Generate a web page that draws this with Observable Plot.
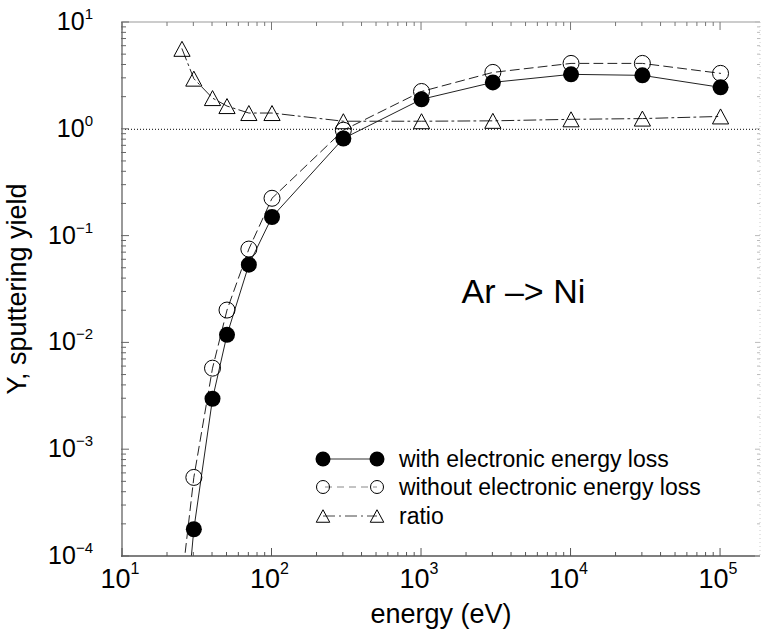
<!DOCTYPE html>
<html>
<head>
<meta charset="utf-8">
<script src="https://cdn.jsdelivr.net/npm/d3@7"></script>
<script src="https://cdn.jsdelivr.net/npm/@observablehq/plot@0.6"></script>
<style>
  html, body { margin: 0; padding: 0; background: #fff; }
</style>
</head>
<body>
<div id="chart"></div>
<script>
// Sputtering yield of Ni under Ar bombardment, with and without electronic stopping
const energy       = [25, 30, 40, 50, 70, 100, 300, 1000, 3000, 10000, 30000, 100000];
const yieldWith    = [1.1e-5, 1.8e-4, 0.0030, 0.0119, 0.054, 0.151, 0.82, 1.91, 2.75, 3.27, 3.20, 2.47];
const yieldWithout = [6.0e-5, 5.5e-4, 0.0058, 0.0203, 0.0756, 0.226, 0.98, 2.26, 3.41, 4.14, 4.14, 3.34];
const yieldRatio   = [5.67, 2.98, 1.96, 1.65, 1.42, 1.42, 1.19, 1.19, 1.20, 1.24, 1.26, 1.32];

const seriesLabels   = ["with electronic energy loss", "without electronic energy loss", "ratio"];
const xTickExponents = [1, 2, 3, 4, 5];
const yTickExponents = [1, 0, -1, -2, -3, -4];
const xDomain = [10, 1.85e5];
const yDomain = [1e-4, 10];
const referenceLevel = [1];
const annotation = ["Ar \u2013> Ni"];
const xTitle = "energy (eV)";
const yTitle = "Y, sputtering yield";

const FONT = "'Liberation Sans', Arial, Helvetica, sans-serif";

const rows = energy.map((e, i) => ({
  energy: e, with: yieldWith[i], without: yieldWithout[i], ratio: yieldRatio[i]
}));

// Open triangle centred at half its height, so the line passes through its middle
const triangle = {
  draw(ctx, size) {
    const r = Math.sqrt(size / Math.PI);
    const w = r * 1.35, h = r * 1.25;
    ctx.moveTo(0, -h);
    ctx.lineTo(w, h);
    ctx.lineTo(-w, h);
    ctx.closePath();
  }
};

const dashStyle = "9,5";
const dashDotStyle = "12,4,2,4";

// Frame, inward ticks, power-of-ten labels, titles and legend
function frameAndAxes(index, scales, values, dims) {
  const {x, y} = scales;
  const {width, height, marginLeft, marginRight, marginTop, marginBottom} = dims;
  const X0 = marginLeft, X1 = width - marginRight, Y0 = marginTop, Y1 = height - marginBottom;
  const g = d3.create("svg:g").attr("font-family", FONT).attr("fill", "black").attr("text-anchor", "start");

  const decadeTicks = (lo, hi) => {
    const out = [];
    for (let k = Math.floor(Math.log10(lo)); k <= Math.ceil(Math.log10(hi)); k++) {
      for (let m = 1; m <= 9; m++) {
        const v = m * Math.pow(10, k);
        if (v >= lo * 0.9999 && v <= hi * 1.0001) out.push({v, major: m === 1});
      }
    }
    return out;
  };

  // frame lines
  g.append("line").attr("x1", X0).attr("x2", X1).attr("y1", Y0).attr("y2", Y0)
    .attr("stroke", "#999").attr("stroke-width", 1.2);
  g.append("line").attr("x1", X1).attr("x2", X1).attr("y1", Y0).attr("y2", Y1)
    .attr("stroke", "#ccc").attr("stroke-width", 1).attr("stroke-dasharray", "1,3");
  g.append("line").attr("x1", X0).attr("x2", X0).attr("y1", Y0).attr("y2", Y1 + 1)
    .attr("stroke", "#999").attr("stroke-width", 2);
  g.append("line").attr("x1", X0 - 1).attr("x2", X1).attr("y1", Y1).attr("y2", Y1)
    .attr("stroke", "#555").attr("stroke-width", 1.5);

  for (const {v, major} of decadeTicks(xDomain[0], xDomain[1])) {
    const px = x(v);
    g.append("line").attr("x1", px).attr("x2", px).attr("y1", Y1).attr("y2", Y1 - (major ? 8 : 4))
      .attr("stroke", "#555").attr("stroke-width", 1);
    g.append("line").attr("x1", px).attr("x2", px).attr("y1", Y0).attr("y2", Y0 + (major ? 8 : 4))
      .attr("stroke", "#777").attr("stroke-width", 1);
  }
  for (const {v, major} of decadeTicks(yDomain[0], yDomain[1])) {
    const py = y(v);
    g.append("line").attr("x1", X0 - 1).attr("x2", X0 + (major ? 7 : 4)).attr("y1", py).attr("y2", py)
      .attr("stroke", "#666").attr("stroke-width", 1);
    g.append("line").attr("x1", X1).attr("x2", X1 - (major ? 5 : 3)).attr("y1", py).attr("y2", py)
      .attr("stroke", "#bbb").attr("stroke-width", 1);
  }

  const expText = (k) => (k < 0 ? "\u2212" + Math.abs(k) : String(k));

  for (const k of xTickExponents) {
    const t = g.append("text").attr("x", x(Math.pow(10, k)) - 2).attr("y", Y1 + 32)
      .attr("text-anchor", "middle").attr("font-size", 27);
    t.append("tspan").text("10");
    t.append("tspan").attr("font-size", 16).attr("dy", -14).text(expText(k));
  }
  for (const k of yTickExponents) {
    const t = g.append("text").attr("x", 93).attr("y", y(Math.pow(10, k)) + 8)
      .attr("text-anchor", "end").attr("font-size", 25);
    t.append("tspan").text("10");
    t.append("tspan").attr("font-size", 15).attr("dy", -11).text(expText(k));
  }

  g.append("text").attr("x", (X0 + X1) / 2).attr("y", Y1 + 67)
    .attr("text-anchor", "middle").attr("font-size", 27).text(xTitle);
  g.append("text").attr("transform", `translate(26,${(Y0 + Y1) / 2}) rotate(-90)`)
    .attr("text-anchor", "middle").attr("font-size", 27).text(yTitle);

  // legend
  const lx0 = 323, lx1 = 377, tx = 399, rowY = [459, 487, 516];
  const sym = d3.symbol().type(triangle).size(Math.PI * 25);
  // row 1: filled circles joined by a solid line
  g.append("line").attr("x1", lx0).attr("x2", lx1).attr("y1", rowY[0]).attr("y2", rowY[0])
    .attr("stroke", "#333").attr("stroke-width", 1);
  for (const lx of [lx0, lx1]) g.append("circle").attr("cx", lx).attr("cy", rowY[0]).attr("r", 7.5).attr("fill", "black");
  // row 2: open circles joined by a dashed line
  g.append("line").attr("x1", lx0).attr("x2", lx1).attr("y1", rowY[1]).attr("y2", rowY[1])
    .attr("stroke", "#888").attr("stroke-width", 1).attr("stroke-dasharray", "7,5").attr("stroke-dashoffset", -2);
  for (const lx of [lx0, lx1]) g.append("circle").attr("cx", lx).attr("cy", rowY[1]).attr("r", 6.5)
    .attr("fill", "none").attr("stroke", "black").attr("stroke-width", 1);
  // row 3: open triangles joined by a dash-dot line
  g.append("line").attr("x1", lx0).attr("x2", lx1).attr("y1", rowY[2]).attr("y2", rowY[2])
    .attr("stroke", "#444").attr("stroke-width", 1).attr("stroke-dasharray", "12,4,2,4");
  for (const lx of [lx0, lx1]) g.append("path").attr("d", sym()).attr("transform", `translate(${lx},${rowY[2]})`)
    .attr("fill", "none").attr("stroke", "black").attr("stroke-width", 1);
  seriesLabels.forEach((s, i) => {
    g.append("text").attr("x", tx).attr("y", rowY[i] + 8).attr("text-anchor", "start")
      .attr("font-size", 23).text(s);
  });

  return g.node();
}

const chart = Plot.plot({
  width: 761,
  height: 635,
  marginLeft: 122,
  marginRight: 1,
  marginTop: 22,
  marginBottom: 79,
  x: {type: "log", domain: xDomain, axis: null},
  y: {type: "log", domain: yDomain, axis: null},
  style: {background: "white", fontFamily: FONT, overflow: "visible"},
  marks: [
    Plot.ruleY(referenceLevel, {stroke: "black", strokeWidth: 1, strokeDasharray: "1,2"}),
    Plot.line(rows, {x: "energy", y: "without", stroke: "#222", strokeWidth: 1, strokeDasharray: dashStyle, clip: true}),
    Plot.line(rows, {x: "energy", y: "with", stroke: "#222", strokeWidth: 1, clip: true}),
    Plot.line(rows, {x: "energy", y: "ratio", stroke: "#222", strokeWidth: 1, strokeDasharray: dashDotStyle, clip: true}),
    Plot.dot(rows, {x: "energy", y: "without", r: 8, fill: "none", stroke: "black", strokeWidth: 1, clip: true}),
    Plot.dot(rows, {x: "energy", y: "with", r: 8, fill: "black", stroke: "none", clip: true}),
    Plot.dot(rows, {x: "energy", y: "ratio", r: 6, symbol: triangle, fill: "none", stroke: "black", strokeWidth: 1, clip: true}),
    Plot.text(annotation, {x: () => 4800, y: () => 0.03, text: d => d, fontSize: 34, textAnchor: "middle", lineAnchor: "middle", fill: "black"}),
    frameAndAxes
  ]
});

document.getElementById("chart").appendChild(chart);
</script>
</body>
</html>
